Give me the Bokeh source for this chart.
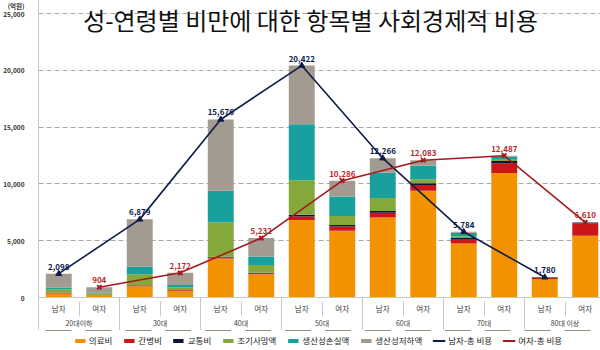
from bokeh.plotting import figure
from bokeh.layouts import column
from bokeh.models import (ColumnDataSource, Range1d, LinearAxis, FixedTicker,
                          NumeralTickFormatter, Legend, LegendItem, Label)
from bokeh.embed import file_html
from bokeh.resources import INLINE
from bokeh.core.properties import value

groups = ["20대이하", "30대", "40대", "50대", "60대", "70대", "80대 이상"]
sexes = ["남자", "여자"]
items = ["의료비", "간병비", "교통비", "조기사망액", "생산성손실액", "생산성저하액"]

# bar order: (20대이하 남, 여), (30대 남, 여), ... (80대 이상 남, 여)
medical = [350, 220, 980, 600, 3440, 2050, 6820, 5880, 7050, 9410, 4760, 10960, 1620, 5440]
care = [40, 30, 80, 50, 80, 60, 320, 380, 410, 500, 380, 850, 120, 1090]
transport = [30, 10, 20, 20, 70, 80, 150, 120, 150, 150, 90, 200, 40, 80]
early_death = [300, 120, 960, 200, 3030, 670, 3030, 790, 1150, 350, 150, 120, 0, 0]
prod_loss = [130, 50, 660, 230, 2790, 760, 4940, 1730, 2230, 1200, 320, 260, 0, 0]
prod_decline = [1248, 474, 4179, 1072, 6266, 1612, 5162, 1386, 1276, 473, 84, 97, 0, 0]
male_total = [2098, 6879, 15676, 20422, 12266, 5784, 1780]
female_total = [904, 2172, 5232, 10286, 12083, 12487, 6610]
line_names = ["남자-총 비용", "여자-총 비용"]
y_ticks = [0, 5000, 10000, 15000, 20000, 25000]
title_text = "성-연령별 비만에 대한 항목별 사회경제적 비용"
unit_text = "(억원)"

colors = ["#F39200", "#CC1719", "#0B1538", "#84A83A", "#17A09E", "#A39A90"]
male_color = "#0E1C4A"
female_color = "#A3191C"
FONT = "Noto Sans CJK KR"

n = len(medical)
xs = list(range(n))
keys = ["med", "care", "trans", "early", "loss", "decl"]
source = ColumnDataSource(dict(x=xs, med=medical, care=care, trans=transport,
                               early=early_death, loss=prod_loss, decl=prod_decline))

Y_TOP = 26150      # frame extends above the 25,000 gridline to hold the title
UNIT_POS = 25750   # where the unit caption sits on the value axis

p = figure(frame_width=567, frame_height=297, x_range=Range1d(-0.5, n - 0.5),
           y_range=Range1d(y_ticks[0], Y_TOP),
           output_backend="svg", toolbar_location=None, x_axis_type=None,
           min_border_left=30, min_border_right=3, min_border_top=0,
           min_border_bottom=33)
p.outline_line_color = None
p.background_fill_color = "white"

bars = p.vbar_stack(keys, x="x", width=0.64, color=colors, source=source, line_width=0)

# y axis
yax = p.yaxis[0]
yax.ticker = FixedTicker(ticks=y_ticks + [UNIT_POS])
yax.formatter = NumeralTickFormatter(format="0,0")
yax.major_label_overrides = {UNIT_POS: unit_text}
yax.major_tick_line_color = None
yax.minor_tick_line_color = None
yax.axis_line_color = "#C8C8C8"
yax.major_label_text_font = FONT
yax.major_label_text_font_size = "6.5px"
yax.major_label_text_color = "#333333"
yax.major_label_text_font_style = "bold"
yax.major_label_standoff = 8
p.ygrid.ticker = FixedTicker(ticks=y_ticks[1:])
p.ygrid.grid_line_color = "#A8A8A8"
p.ygrid.grid_line_dash = "5 3"
p.xgrid.grid_line_color = None

gcent = [0.5 + 2 * k for k in range(len(groups))]
gbounds = [-0.5 + 2 * k for k in range(len(groups) + 1)]

# x axis 1: 남자/여자, long separators at group boundaries
ax1 = LinearAxis(ticker=FixedTicker(ticks=xs, minor_ticks=gbounds),
                 major_label_overrides={i: sexes[i % 2] for i in xs})
ax1.major_tick_line_color = None
ax1.major_tick_out = 0
ax1.major_tick_in = 0
ax1.minor_tick_line_color = "#C8C8C8"
ax1.minor_tick_out = 0
ax1.minor_tick_in = -33
ax1.axis_line_color = "#C8C8C8"
ax1.major_label_text_font = FONT
ax1.major_label_text_font_size = "7.5px"
ax1.major_label_text_color = "#404040"
ax1.major_label_standoff = 5
p.add_layout(ax1, "below")

# x axis 2: age groups, short separators between 남자 and 여자 (drawn upward)
ax2 = LinearAxis(ticker=FixedTicker(ticks=gcent, minor_ticks=[c for c in gcent]),
                 major_label_overrides={c: g for c, g in zip(gcent, groups)})
ax2.axis_line_color = None
ax2.major_tick_line_color = None
ax2.major_tick_out = 0
ax2.major_tick_in = 0
ax2.minor_tick_line_color = "#C8C8C8"
ax2.minor_tick_in = 15
ax2.minor_tick_out = 0
ax2.major_label_text_font = FONT
ax2.major_label_text_font_size = "7px"
ax2.major_label_text_color = "#404040"
ax2.major_label_standoff = 1
p.add_layout(ax2, "below")

# total lines
mx = xs[0::2]
fx = xs[1::2]
p.line(mx, male_total, line_color=male_color, line_width=1.6)
p.scatter(mx, male_total, marker="triangle", size=6, color=male_color)
p.line(fx, female_total, line_color=female_color, line_width=1.6)
p.scatter(fx, female_total, marker="x", size=6, line_color=female_color, line_width=2)

p.text(mx, male_total, text=[f"{v:,}" for v in male_total], text_align="center",
       text_baseline="bottom", y_offset=-4, text_font=value(FONT),
       text_font_size="8px", text_font_style="bold", text_color=male_color)
p.text(fx, female_total, text=[f"{v:,}" for v in female_total], text_align="center",
       text_baseline="bottom", y_offset=-4, text_font=value(FONT),
       text_font_size="8px", text_font_style="bold", text_color="#C0282A")

p.add_layout(Label(x=272, y=278, x_units="screen", y_units="screen", text=title_text,
                   text_align="center", text_baseline="middle", text_font=FONT,
                   text_font_size="24px", text_color="#111111"))

# legend strip: a small figure whose view excludes the data, so only the legend shows
lg = figure(width=600, height=20, output_backend="svg", toolbar_location=None,
            x_axis_type=None, y_axis_type=None, min_border=0,
            x_range=Range1d(-0.5, n - 0.5), y_range=Range1d(-2, -1))
lg.outline_line_color = None
lg.xgrid.grid_line_color = None
lg.ygrid.grid_line_color = None
proxies = lg.vbar_stack(keys, x="x", width=0.64, color=colors, source=source, line_width=0)
proxies.append(lg.line(mx, male_total, line_color=male_color, line_width=2))
proxies.append(lg.line(fx, female_total, line_color=female_color, line_width=2))
labels = items + line_names
legend = Legend(items=[LegendItem(label=l, renderers=[r]) for l, r in zip(labels, proxies)],
                orientation="horizontal", location="center",
                border_line_color=None, background_fill_alpha=0,
                label_text_font=FONT, label_text_font_size="8.5px",
                label_text_color="#222222",
                glyph_width=13, glyph_height=5, spacing=10, label_standoff=3,
                padding=0, margin=0, label_height=9)
lg.add_layout(legend, "center")

layout = column(p, lg, spacing=0)
open("out.html", "w").write(file_html(layout, INLINE))
